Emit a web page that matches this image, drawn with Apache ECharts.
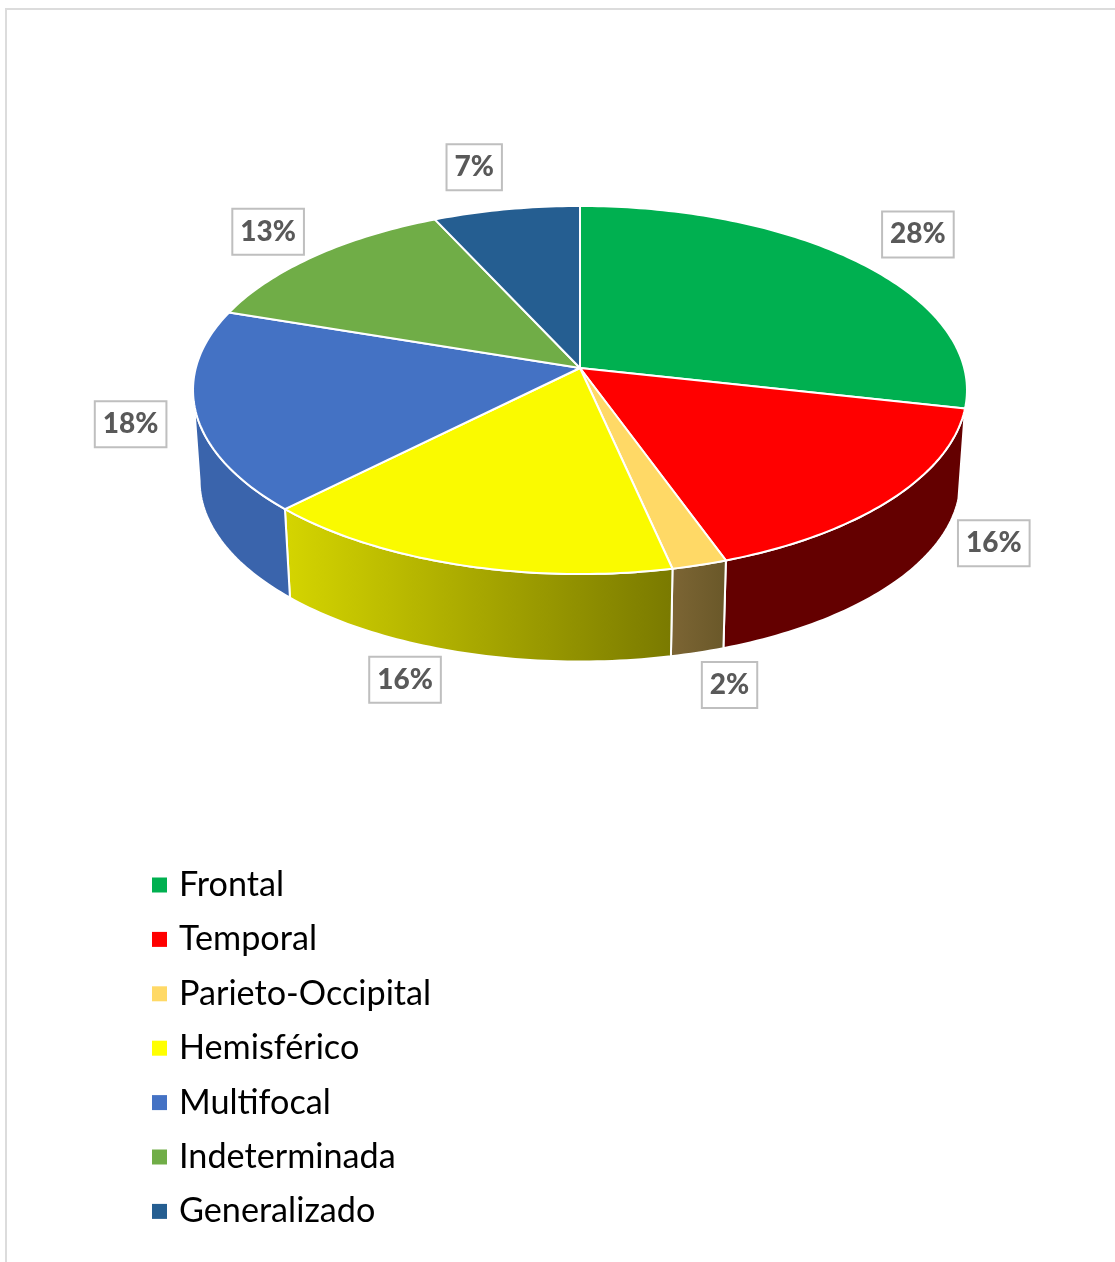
<!DOCTYPE html>
<html>
<head>
<meta charset="utf-8">
<title>Pie</title>
<script src="https://cdn.jsdelivr.net/npm/echarts@6/dist/echarts.min.js"></script>
<style>
	html,body{margin:0;padding:0;background:#fff;}
	#main{width:1115px;height:1262px;}
</style>
</head>
<body>
<div id="main"></div>
<script>
var categories = ['Frontal','Temporal','Parieto-Occipital','Hemisférico','Multifocal','Indeterminada','Generalizado'];
var values = [28.49,16.04,2.06,15.81,17.75,12.97,6.88];
var topColors = ['#00B050','#FF0000','#FFD966','#FAFA00','#4472C4','#70AD47','#255E91'];
var legendColors = ['#00B050','#FF0000','#FFD966','#FFFF00','#4472C4','#70AD47','#255E91'];
var labelOffsets = [[59,-28],[101,45],[30,120],[-54,115],[-65,13],[-47,-24],[-32,-42]];

// perspective of the disc
var cx = 580, cy = 368, a = 384.2, b = 181.4, k = 0.1196;
var wallDrop = 91, wallScale = 0.983;
var wallFrom = 97, wallTo = 263;

var total = values.reduce(function(s,v){return s+v;},0);
var starts = [], run = 0;
values.forEach(function(v){ starts.push(run); run += v; });

function rim(deg,scale,drop){
	var t = deg*Math.PI/180, u = Math.sin(t), v = -Math.cos(t), d = 1-k*v;
	return [cx+scale*a*u/d, cy+drop+scale*b*v/d];
}
function arc(from,to,scale,drop){
	var pts = [], n = Math.max(2,Math.ceil(Math.abs(to-from)));
	for(var i=0;i<=n;i++){ pts.push(rim(from+(to-from)*i/n,scale,drop)); }
	return pts;
}
function wallFill(i){
	var grad = function(x,x2,c1,c2){
		return {type:'linear',x:x,y:0,x2:x2,y2:0,global:true,colorStops:[{offset:0,color:c1},{offset:1,color:c2}]};
	};
	if(i==1) return '#640000';
	if(i==2) return grad(672,725,'#7C6534','#6A5829');
	if(i==3) return grad(288,672,'#D4D400','#7A7A00');
	if(i==4) return '#3A64AC';
	return '#1E4A73';
}

var series = [{
	type:'custom',
	name:'wall',
	coordinateSystem:'none',
	silent:true,
	z:1,
	data:values.map(function(v){return [v];}),
	renderItem:function(params,api){
		var i = params.dataIndex;
		var from = Math.max(starts[i]/total*360,wallFrom);
		var to = Math.min((starts[i]+api.value(0))/total*360,wallTo);
		if(to<=from) return {type:'group',children:[]};
		var pts = arc(from,to,1,0).concat(arc(to,from,wallScale,wallDrop));
		return {type:'polygon',shape:{points:pts},style:{fill:wallFill(i),stroke:'#fff',lineWidth:2}};
	}
}];

categories.forEach(function(name,i){
	series.push({
		type:'custom',
		name:name,
		coordinateSystem:'none',
		silent:true,
		z:2,
		itemStyle:{color:legendColors[i]},
		data:[[values[i]]],
		renderItem:function(params,api){
			var from = starts[i]/total*360, to = (starts[i]+api.value(0))/total*360;
			var pts = [[cx,cy]].concat(arc(from,to,1,0));
			var anchor = rim((from+to)/2,1,0);
			return {type:'group',children:[
				{type:'polygon',shape:{points:pts},style:{fill:topColors[i],stroke:'#fff',lineWidth:2,lineJoin:'round'}},
				{type:'text',z2:10,style:{
					text:Math.round(api.value(0)/total*100)+'%',
					x:anchor[0]+labelOffsets[i][0],y:anchor[1]+labelOffsets[i][1],
					align:'center',verticalAlign:'middle',
					font:'900 28px Lato',fill:'#595959',
					backgroundColor:'#fff',borderColor:'#bfbfbf',borderWidth:2,padding:[8,7,8,7]
				}}
			]};
		}
	});
});

var myChart = echarts.init(document.getElementById('main'));
myChart.setOption({
	animation:false,
	backgroundColor:'#fff',
	graphic:[
		{type:'line',shape:{x1:6,y1:9,x2:1115,y2:9},style:{stroke:'#dcdcdc',lineWidth:2}},
		{type:'line',shape:{x1:6,y1:8,x2:6,y2:1262},style:{stroke:'#dcdcdc',lineWidth:2}}
	],
	legend:{
		data:categories,
		orient:'vertical',
		left:152,
		top:861,
		padding:0,
		icon:'rect',
		itemWidth:15,
		itemHeight:15,
		itemGap:6.4,
		selectedMode:false,
		textStyle:{fontFamily:'Lato',fontSize:34.2,color:'#000',lineHeight:48,padding:[0,0,0,7]}
	},
	series:series
});
</script>
</body>
</html>
